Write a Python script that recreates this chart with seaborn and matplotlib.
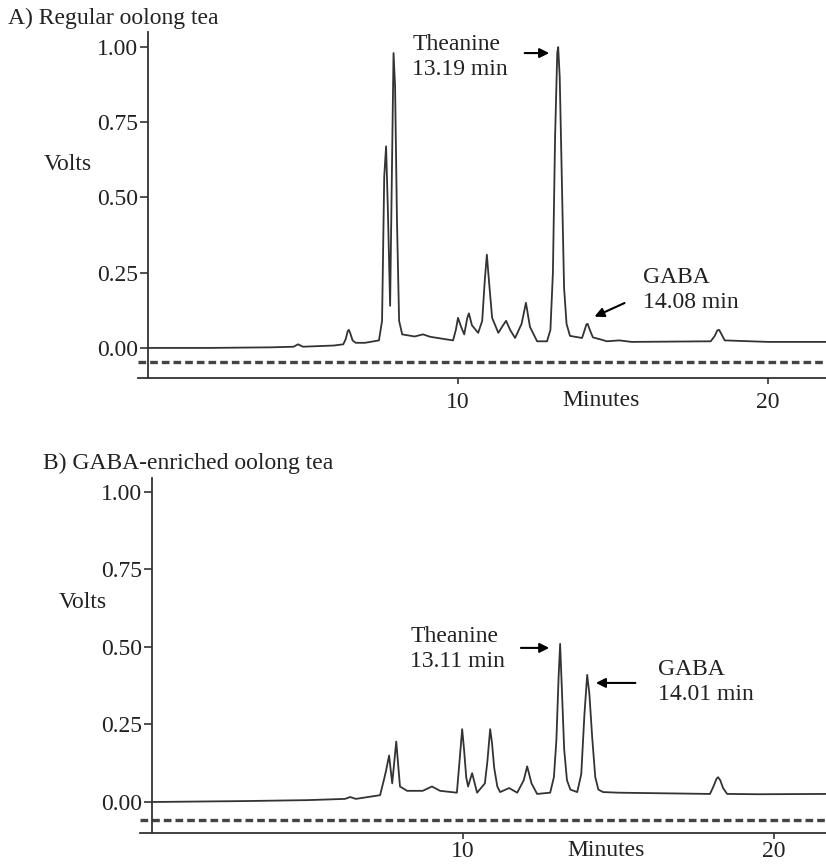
import numpy as np
import pandas as pd
import seaborn as sns
import matplotlib.pyplot as plt

# chromatogram A: regular oolong tea (time in min, signal in volts)
time_a = [0, 2.0, 4.0, 4.7, 4.84, 5.0, 6.0, 6.3, 6.38, 6.44, 6.48, 6.52, 6.6, 6.7,
          7.0, 7.45, 7.55, 7.62, 7.68, 7.74, 7.81, 7.87, 7.92, 7.97, 8.03, 8.1, 8.2,
          8.6, 8.87, 9.1, 9.84, 9.93, 10.0, 10.1, 10.2, 10.3, 10.35, 10.45, 10.65,
          10.78, 10.86, 10.93, 11.0, 11.1, 11.3, 11.45, 11.55, 11.68, 11.84, 12.05,
          12.19, 12.32, 12.55, 12.87, 12.98, 13.06, 13.13, 13.2, 13.23, 13.28, 13.35,
          13.42, 13.5, 13.61, 14.0, 14.07, 14.14, 14.18, 14.25, 14.35, 14.64, 14.8,
          15.2, 15.6, 18.15, 18.28, 18.36, 18.42, 18.5, 18.6, 20.0, 21.9]
volts_a = [0.0, 0.0, 0.002, 0.004, 0.012, 0.004, 0.008, 0.012, 0.03, 0.055, 0.06,
           0.05, 0.025, 0.017, 0.017, 0.025, 0.09, 0.57, 0.67, 0.45, 0.14, 0.6, 0.98,
           0.87, 0.43, 0.09, 0.045, 0.038, 0.045, 0.037, 0.025, 0.06, 0.10, 0.07,
           0.045, 0.1, 0.115, 0.075, 0.05, 0.09, 0.22, 0.31, 0.22, 0.1, 0.05, 0.075,
           0.09, 0.06, 0.033, 0.08, 0.15, 0.07, 0.022, 0.022, 0.06, 0.25, 0.7, 0.98,
           1.0, 0.9, 0.55, 0.2, 0.08, 0.04, 0.033, 0.055, 0.078, 0.08, 0.06, 0.035,
           0.027, 0.022, 0.025, 0.02, 0.022, 0.04, 0.058, 0.06, 0.045, 0.025, 0.02,
           0.02]

# chromatogram B: GABA-enriched oolong tea
time_b = [0, 3.0, 5.0, 6.2, 6.37, 6.55, 7.33, 7.45, 7.52, 7.62, 7.72, 7.85, 7.97,
          8.2, 8.7, 9.0, 9.26, 9.8, 9.9, 9.97, 10.03, 10.1, 10.16, 10.29, 10.45, 10.7,
          10.78, 10.87, 10.93, 11.0, 11.1, 11.19, 11.48, 11.74, 11.95, 12.06, 12.2,
          12.38, 12.8, 12.92, 13.0, 13.07, 13.12, 13.17, 13.25, 13.34, 13.45, 13.67,
          13.8, 13.9, 13.99, 14.06, 14.15, 14.25, 14.35, 14.5, 15.0, 17.94, 18.05,
          18.15, 18.2, 18.27, 18.36, 18.49, 19.5, 21.7]
volts_b = [0.0, 0.003, 0.006, 0.01, 0.016, 0.01, 0.022, 0.07, 0.1, 0.15, 0.06,
           0.195, 0.05, 0.036, 0.036, 0.05, 0.036, 0.03, 0.15, 0.235, 0.17, 0.08,
           0.05, 0.093, 0.03, 0.06, 0.13, 0.235, 0.19, 0.11, 0.05, 0.032, 0.045, 0.03,
           0.07, 0.115, 0.06, 0.026, 0.03, 0.08, 0.2, 0.4, 0.51, 0.38, 0.17, 0.07,
           0.04, 0.032, 0.09, 0.28, 0.41, 0.35, 0.21, 0.08, 0.04, 0.032, 0.03, 0.026,
           0.05, 0.075, 0.08, 0.07, 0.045, 0.026, 0.025, 0.026]

titles = ["A) Regular oolong tea", "B) GABA-enriched oolong tea"]
y_ticks = [0.0, 0.25, 0.5, 0.75, 1.0]
x_ticks = [10, 20]
dash_level = [-0.047, -0.058]

sns.set_style("white")
plt.rcParams['font.family'] = ['Liberation Serif', 'DejaVu Serif']

fig = plt.figure(figsize=(8.26, 8.65), dpi=100)
ax_a = fig.add_axes([0.1671, 0.563, 0.833, 0.4])
ax_b = fig.add_axes([0.1695, 0.037, 0.8305, 0.4104])

fs = 17
ink = '#222222'

panels = [
    (ax_a, time_a, volts_a, (-0.32, 21.87), (-0.1, 1.05), 6),
    (ax_b, time_b, volts_b, (-0.39, 21.67), (-0.1, 1.045), 2),
]
for i, (ax, t, v, xl, yl, xpad) in enumerate(panels):
    df = pd.DataFrame({'Minutes': t, 'Volts': v})
    sns.lineplot(data=df, x='Minutes', y='Volts', ax=ax, estimator=None,
                 color='#333333', lw=1.3)
    ax.axhline(dash_level[i], color='#444444', lw=2.4, dashes=(2.3, 1.2))
    ax.set_xlim(*xl)
    ax.set_ylim(*yl)
    for s in ['top', 'right']:
        ax.spines[s].set_visible(False)
    ax.spines['left'].set_position(('data', 0))
    for s in ['left', 'bottom']:
        ax.spines[s].set_color('#333333')
        ax.spines[s].set_linewidth(1.3)
    ax.set_yticks(y_ticks)
    ax.set_yticklabels([f"{y:.2f}" for y in y_ticks])
    ax.set_xticks(x_ticks)
    ax.set_xticklabels([str(x) for x in x_ticks])
    ax.tick_params(axis='y', direction='out', length=6, width=1.2, pad=1,
                   labelsize=fs, colors='#333333', labelcolor=ink, left=True)
    ax.tick_params(axis='x', direction='out', length=4, width=1.2, pad=xpad,
                   labelsize=fs, colors='#333333', labelcolor=ink, bottom=True)
    ax.set_xlabel('')
    ax.set_ylabel('')

# axis words
ax_a.text(14.6, -0.1 - 12 / 301, 'Minutes', fontsize=fs, color=ink, ha='center', va='top')
ax_b.text(14.6, -0.1 - 7 / 310, 'Minutes', fontsize=fs, color=ink, ha='center', va='top')
fig.text(68 / 826, 1 - 165 / 865, 'Volts', fontsize=fs, color=ink, ha='center', va='center')
fig.text(83 / 826, 1 - 602 / 865, 'Volts', fontsize=fs, color=ink, ha='center', va='center')

fig.text(8 / 826, 1 - 18 / 865, titles[0], fontsize=fs, color=ink, ha='left', va='center')
fig.text(43 / 826, 1 - 463 / 865, titles[1], fontsize=fs, color=ink, ha='left', va='center')

# peak annotations
arrow = dict(arrowstyle='-|>', color='black', lw=1.5, mutation_scale=14)
ax_a.text(8.52, 0.967, 'Theanine\n13.19 min', fontsize=fs, color=ink, ha='left',
          va='center', linespacing=1.25)
ax_a.annotate('', xy=(13.03, 0.98), xytext=(12.06, 0.98), arrowprops=arrow)
ax_a.text(15.97, 0.193, 'GABA\n14.08 min', fontsize=fs, color=ink, ha='left',
          va='center', linespacing=1.25)
ax_a.annotate('', xy=(14.32, 0.10), xytext=(15.45, 0.153), arrowprops=arrow)

ax_b.text(8.3, 0.494, 'Theanine\n13.11 min', fontsize=fs, color=ink, ha='left',
          va='center', linespacing=1.25)
ax_b.annotate('', xy=(12.86, 0.497), xytext=(11.77, 0.497), arrowprops=arrow)
ax_b.text(16.27, 0.387, 'GABA\n14.01 min', fontsize=fs, color=ink, ha='left',
          va='center', linespacing=1.25)
ax_b.annotate('', xy=(14.18, 0.384), xytext=(15.63, 0.384), arrowprops=arrow)

fig.savefig('out.png', dpi=100)
